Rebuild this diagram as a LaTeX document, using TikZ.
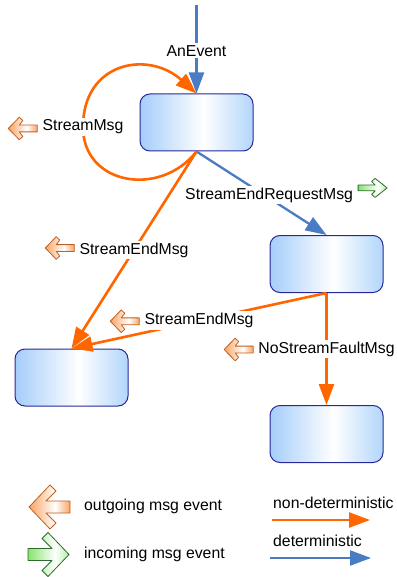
\documentclass[tikz,border=0pt]{standalone}
\usepackage{fontspec}
\setmainfont{Liberation Sans}
\usetikzlibrary{arrows.meta,calc}
\definecolor{orng}{HTML}{FF6600}
\definecolor{blu}{HTML}{4A7CC4}
\definecolor{sbord}{HTML}{28289A}
\definecolor{sblue}{HTML}{A5CDFA}
\definecolor{sblueR}{HTML}{B2D6FB}
\definecolor{obord}{HTML}{C0601E}
\definecolor{ofill}{HTML}{F8A463}
\definecolor{gbord}{HTML}{2E6A2E}
\definecolor{gfill}{HTML}{86E46E}
\definecolor{gfillR}{HTML}{B4F0A6}
\pgfdeclarehorizontalshading{stateshade}{100bp}{color(0bp)=(sblue); color(25bp)=(sblue); color(53bp)=(white); color(75bp)=(sblueR); color(100bp)=(sblueR)}
\pgfdeclarehorizontalshading{oshade}{100bp}{color(0bp)=(ofill); color(25bp)=(ofill); color(57bp)=(white); color(75bp)=(ofill); color(100bp)=(ofill)}
\pgfdeclarehorizontalshading{gshade}{100bp}{color(0bp)=(gfill); color(25bp)=(gfill); color(58bp)=(white); color(75bp)=(gfillR); color(100bp)=(gfillR)}
\tikzset{
  state/.style={draw=sbord, line width=1pt, rounded corners=10pt, minimum width=113pt, minimum height=57pt, shading=stateshade, inner sep=0pt},
  nd/.style={draw=orng, line width=2.6pt, -{Triangle[length=21pt,width=15pt]}},
  det/.style={draw=blu, line width=2.3pt, -{Triangle[length=21pt,width=15pt]}},
  lbl/.style={fill=white, inner sep=2pt},
  legtext/.style={anchor=west, inner sep=0pt},
  outicon/.pic={\path[draw=obord, line width=0.8pt, shading=oshade, line join=round]
    (0,0) -- (21,-22) -- (27,-16) -- (17,-6) -- (41,-6) -- (41,6) -- (17,6) -- (27,16) -- (21,22) -- cycle;},
  inicon/.pic={\path[draw=gbord, line width=0.8pt, shading=gshade, line join=round]
    (41,0) -- (20,-22) -- (14,-16) -- (24,-6) -- (0,-6) -- (0,6) -- (24,6) -- (14,16) -- (20,22) -- cycle;},
  outsmall/.pic={\path[draw=obord, line width=0.8pt, shading=oshade, line join=round]
    (0,0) -- (11,-11.3) -- (14.5,-8) -- (11,-3.4) -- (29,-3.4) -- (29,3.4) -- (11,3.4) -- (14.5,8) -- (11,11.3) -- cycle;},
  insmall/.pic={\path[draw=gbord, line width=0.8pt, shading=gshade, line join=round]
    (29,0) -- (17,-9.5) -- (13.5,-6.5) -- (17,-2.9) -- (0,-2.9) -- (0,2.9) -- (17,2.9) -- (13.5,6.5) -- (17,9.5) -- cycle;}
}
\begin{document}
\begin{tikzpicture}[x=1pt, y=-1pt, font=\fontsize{15.8}{19}\selectfont]
\useasboundingbox (0,0) rectangle (396,577);
\fill[white] (0,0) rectangle (396,577);

% states
\node[state] (s1) at (196.5,122.5) {};
\node[state] (s2) at (326.5,264) {};
\node[state] (s3) at (71.5,377.5) {};
\node[state] (s4) at (326.5,434) {};

% initial event
\coordinate (top) at (196.5,5);
\draw[det] (top) -- node[lbl, pos=0.517] (lae) {AnEvent} (s1.north);

% self loop
\draw[nd] (s1.south) .. controls (160,198) and (83,185) .. (83,127)
   node[lbl] (lsm) {StreamMsg}
   .. controls (83,62) and (148,50) .. (s1.north);
\pic at ($(lsm.west)+(-31,1.5)$) {outsmall};

% s1 -> s2
\draw[det] (s1.south) -- node[lbl, pos=0.52, xshift=5pt] (lreq) {StreamEndRequestMsg} (s2.north);
\pic at ($(lreq.east)+(2,-7)$) {insmall};

% s1 -> s3
\draw[nd] (s1.south) -- node[lbl, pos=0.5] (le1) {StreamEndMsg} (s3.north);
\pic at ($(le1.west)+(-31,-2)$) {outsmall};

% s2 -> s3
\draw[nd] (s2.south) -- node[lbl, pos=0.5] (le2) {StreamEndMsg} (s3.north);
\pic at ($(le2.west)+(-31,0.5)$) {outsmall};

% s2 -> s4
\draw[nd] (s2.south) -- node[lbl, pos=0.5] (lnf) {NoStreamFaultMsg} (s4.north);
\pic at ($(lnf.west)+(-31,0.5)$) {outsmall};

% legend
\pic at (29,507) {outicon};
\pic at (28,554.5) {inicon};
\node[legtext] (t1) at (84,506) {outgoing msg event};
\node[legtext] (t2) at (84,554) {incoming msg event};
\node[legtext] (t3) at (273,503) {non-deterministic};
\coordinate (nda) at (272,520);
\coordinate (ndb) at (370,520);
\draw[nd] (nda) -- (ndb);
\node[legtext] (t4) at (273,541) {deterministic};
\coordinate (da) at (270,558);
\coordinate (db) at (371,558);
\draw[det] (da) -- (db);
\end{tikzpicture}
\end{document}
